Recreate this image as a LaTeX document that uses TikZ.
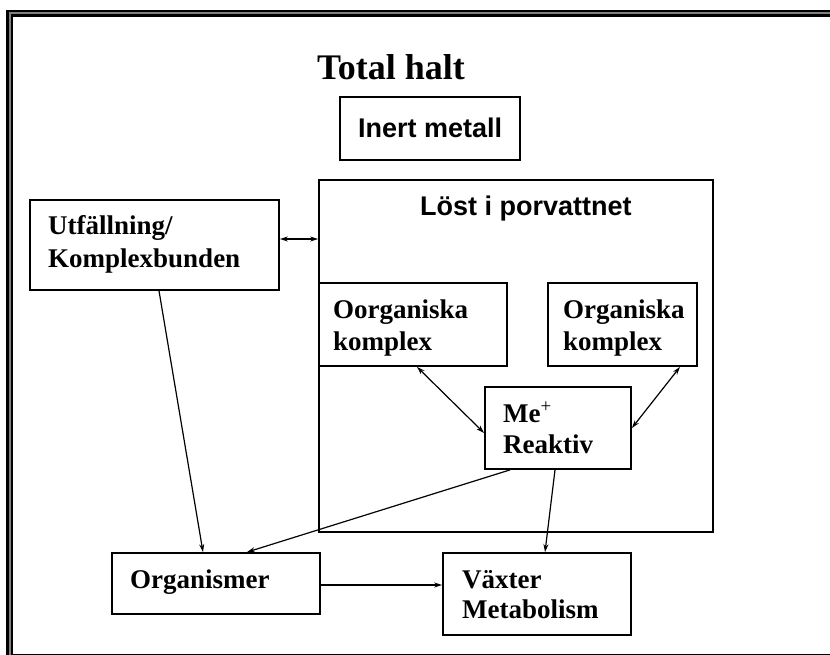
\documentclass[tikz,border=0pt]{standalone}
\usepackage{fontspec}
\setmainfont{Liberation Serif}
\newfontfamily\arialfont{Liberation Sans}
\usetikzlibrary{arrows.meta}
\begin{document}
\begin{tikzpicture}[x=1pt,y=-1pt,
  box/.style={draw,line width=1.8pt,inner sep=0pt,rectangle},
  lbl/.style={anchor=base west,inner sep=0pt,font=\fontsize{27}{31}\selectfont\bfseries},
  albl/.style={anchor=base west,inner sep=0pt,font=\arialfont\fontsize{27}{31}\selectfont\bfseries},
  conn/.style={line width=1.2pt,-{Stealth[length=8pt,width=5pt]}},
  bconn/.style={line width=1.2pt,{Stealth[length=8pt,width=5pt]}-{Stealth[length=8pt,width=5pt]}}]
\useasboundingbox (0,0) rectangle (830,655);
\clip (0,0) rectangle (830,655);
\fill[white] (0,0) rectangle (830,655);
% frame
\draw[line width=7pt,black] (9.5,13.5) rectangle (860,657);
\draw[line width=2pt,gray] (9.5,13.5) rectangle (860,657);
% title
\node[anchor=base west,inner sep=0pt,font=\fontsize{36}{40}\selectfont\bfseries] (title) at (317,80) {Total halt};
% boxes
\node[box,minimum width=180pt,minimum height=63pt] (inert) at (430,128.5) {};
\node[box,minimum width=394pt,minimum height=352pt] (big) at (516,356) {};
\node[box,minimum width=249pt,minimum height=90pt] (utf) at (154.5,245) {};
\node[box,minimum width=188pt,minimum height=83pt] (oorg) at (413,324.5) {};
\node[box,minimum width=149pt,minimum height=83pt] (org) at (622.5,324.5) {};
\node[box,minimum width=146pt,minimum height=82pt] (me) at (558,428) {};
\node[box,minimum width=208pt,minimum height=61pt] (orgm) at (216,583.5) {};
\node[box,minimum width=188pt,minimum height=82pt] (vax) at (537,594) {};
% texts
\node[albl] (inertT) at (358,138) {Inert metall};
\node[albl] (bigT) at (420,215) {Löst i porvattnet};
\node[lbl] (utfA) at (48,235) {Utfällning/};
\node[lbl] (utfB) at (48,268) {Komplexbunden};
\node[lbl] (oorgA) at (333,318) {Oorganiska};
\node[lbl] (oorgB) at (333,350) {komplex};
\node[lbl] (orgA) at (563,318) {Organiska};
\node[lbl] (orgB) at (563,350) {komplex};
\node[lbl] (meA) at (503,422) {Me\textsuperscript{\mdseries+}};
\node[lbl] (meB) at (503,453) {Reaktiv};
\node[lbl] (orgmT) at (130,588) {Organismer};
\node[lbl] (vaxA) at (462,588) {Växter};
\node[lbl] (vaxB) at (462,618) {Metabolism};
% connectors
\draw[bconn] ([yshift=6pt]utf.east) -- ([yshift=6pt]utf.east -| big.west);
\draw[conn] ([xshift=4.5pt]utf.south) -- ([xshift=-13pt]orgm.north);
\draw[bconn] ([xshift=4pt]oorg.south) -- ([yshift=-5pt]me.west);
\draw[bconn] ([xshift=57.5pt]org.south) -- (me.east);
\draw[conn] ([xshift=-48pt]me.south) -- ([xshift=31pt]orgm.north);
\draw[conn] ([xshift=-3pt]me.south) -- ([xshift=8pt]vax.north);
\draw[conn] ([yshift=-1.5pt]orgm.east) -- ([yshift=-1.5pt]orgm.east -| vax.west);
\end{tikzpicture}
\end{document}
